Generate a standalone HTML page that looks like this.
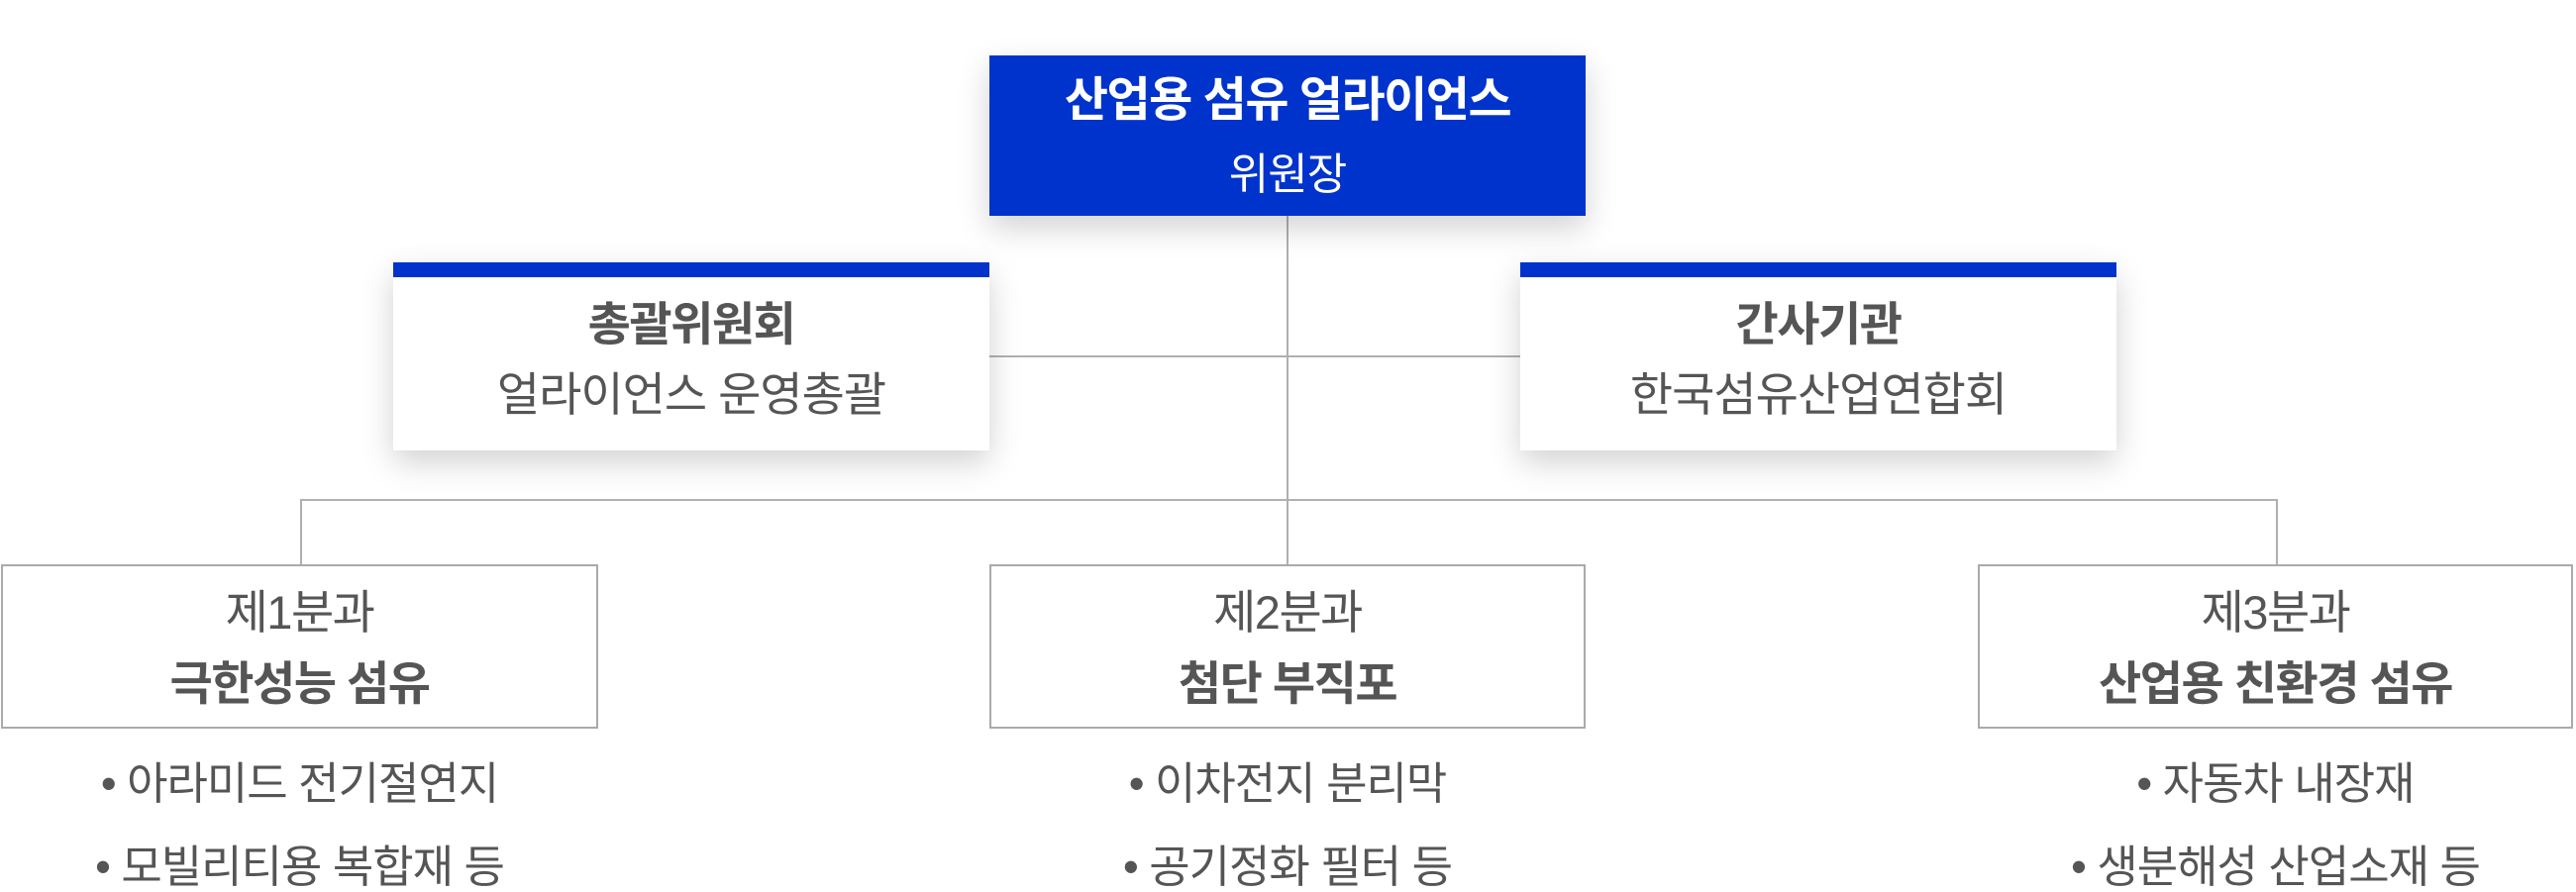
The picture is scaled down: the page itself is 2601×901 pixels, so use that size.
<!DOCTYPE html>
<html><head><meta charset="utf-8"><style>
body{margin:0;width:2601px;height:898px;background:#fff;position:relative;overflow:hidden;font-family:"Liberation Sans","Noto Sans CJK KR",sans-serif;color:#555}
.a{position:absolute}
.box{position:absolute;box-sizing:border-box;background:#fff}
.t{position:absolute;left:0;right:0;text-align:center;white-space:nowrap;line-height:1}
.b{font-weight:700}
.l{position:absolute;background:#b0b0b0}
</style></head><body>
<div class="l" style="left:1299px;top:218px;width:2px;height:352px"></div>
<div class="l" style="left:999px;top:359px;width:536px;height:2px"></div>
<div class="l" style="left:303px;top:504px;width:1997px;height:2px"></div>
<div class="l" style="left:303px;top:504px;width:2px;height:66px"></div>
<div class="l" style="left:2298px;top:504px;width:2px;height:66px"></div>

<div class="box" style="left:999px;top:56px;width:602px;height:162px;background:#0033cc;box-shadow:0 12px 30px rgba(0,0,0,0.18)">
<div class="t b" style="top:22px;font-size:48px;letter-spacing:-1.5px;color:#fff">산업용 섬유 얼라이언스</div>
<div class="t" style="top:99px;font-size:44px;letter-spacing:-1px;color:#fff">위원장</div>
</div>

<div class="box" style="left:397px;top:265px;width:602px;height:190px;border-top:15px solid #0033cc;box-shadow:0 12px 30px rgba(0,0,0,0.18)">
<div class="t b" style="top:24px;font-size:47px;letter-spacing:-1.5px">총괄위원회</div>
<div class="t" style="top:95px;font-size:47px;letter-spacing:-1px">얼라이언스 운영총괄</div>
</div>
<div class="box" style="left:1535px;top:265px;width:602px;height:190px;border-top:15px solid #0033cc;box-shadow:0 12px 30px rgba(0,0,0,0.18)">
<div class="t b" style="top:24px;font-size:47px;letter-spacing:-1.5px">간사기관</div>
<div class="t" style="top:95px;font-size:47px;letter-spacing:-1px">한국섬유산업연합회</div>
</div>

<div class="box" style="left:1px;top:570px;width:603px;height:166px;border:2px solid #aaa">
<div class="t" style="top:23px;font-size:47px;letter-spacing:-1.5px">제1분과</div>
<div class="t b" style="top:95px;font-size:47px;letter-spacing:-1.5px">극한성능 섬유</div>
</div>
<div class="box" style="left:999px;top:570px;width:602px;height:166px;border:2px solid #aaa">
<div class="t" style="top:23px;font-size:47px;letter-spacing:-1.5px">제2분과</div>
<div class="t b" style="top:95px;font-size:47px;letter-spacing:-1.5px">첨단 부직포</div>
</div>
<div class="box" style="left:1997px;top:570px;width:601px;height:166px;border:2px solid #aaa">
<div class="t" style="top:23px;font-size:47px;letter-spacing:-1.5px">제3분과</div>
<div class="t b" style="top:95px;font-size:47px;letter-spacing:-1.5px">산업용 친환경 섬유</div>
</div>

<div class="a" style="left:0;width:605px;top:769px"><div class="t" style="font-size:45px;letter-spacing:-1px">• 아라미드 전기절연지</div></div>
<div class="a" style="left:0;width:605px;top:853px"><div class="t" style="font-size:45px;letter-spacing:-1px">• 모빌리티용 복합재 등</div></div>
<div class="a" style="left:999px;width:602px;top:769px"><div class="t" style="font-size:45px;letter-spacing:-1px">• 이차전지 분리막</div></div>
<div class="a" style="left:999px;width:602px;top:853px"><div class="t" style="font-size:45px;letter-spacing:-1px">• 공기정화 필터 등</div></div>
<div class="a" style="left:1997px;width:601px;top:769px"><div class="t" style="font-size:45px;letter-spacing:-1px">• 자동차 내장재</div></div>
<div class="a" style="left:1997px;width:601px;top:853px"><div class="t" style="font-size:45px;letter-spacing:-1px">• 생분해성 산업소재 등</div></div>
</body></html>
